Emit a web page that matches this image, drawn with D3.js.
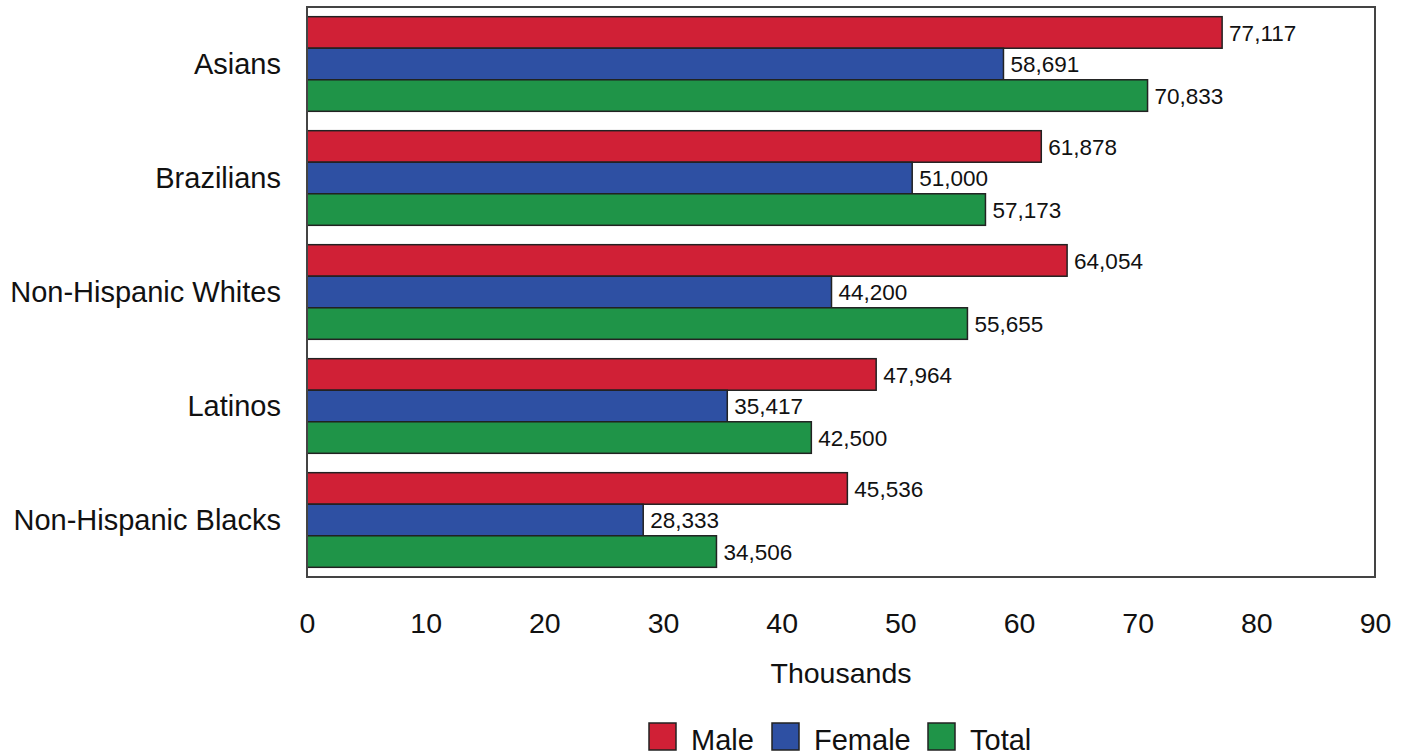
<!DOCTYPE html>
<html lang="en">
<head>
  <meta charset="utf-8">
  <title>Earnings by group</title>
  <script src="https://d3js.org/d3.v7.min.js"></script>
  <style>
    body { margin: 0; background: #fff; }
    #chart text { font-family: "Liberation Sans", Arial, sans-serif; fill: #111; }
    .bar { stroke: #222; stroke-width: 1.5; }
    .frame { fill: none; stroke: #444; stroke-width: 2; }
  </style>
</head>
<body>
  <div id="chart"></div>
  <script>
    // dados
    var grupos = ["Asians", "Brazilians", "Non-Hispanic Whites", "Latinos", "Non-Hispanic Blacks"];
    var series = ["Male", "Female", "Total"];
    var male = [77117, 61878, 64054, 47964, 45536];
    var female = [58691, 51000, 44200, 35417, 28333];
    var total = [70833, 57173, 55655, 42500, 34506];
    var xTicks = [0, 10, 20, 30, 40, 50, 60, 70, 80, 90];
    var cores = ["#d02036", "#2e50a3", "#1f9448"];

    var largura = 1407, altura = 755;
    var margin = {top: 7, right: 32, bottom: 178, left: 307};
    var w = largura - margin.left - margin.right,
        h = altura - margin.top - margin.bottom;

    var valores = [male, female, total];
    var dados = grupos.map(function(g, i) {
      return {grupo: g, vals: series.map(function(s, j) { return {serie: s, v: valores[j][i], j: j}; })};
    });

    var svg = d3.select("#chart").append("svg")
      .attr("width", largura).attr("height", altura);
    var g = svg.append("g")
      .attr("transform", "translate(" + margin.left + "," + margin.top + ")");

    var x = d3.scaleLinear().domain([0, 90]).range([0, w]);
    var y = d3.scaleBand().domain(grupos).range([0, h]).paddingInner(0.17).paddingOuter(0.085);
    var y1 = d3.scaleBand().domain(series).range([0, y.bandwidth()]);

    var grp = g.selectAll(".grupo").data(dados).enter().append("g")
      .attr("transform", function(d) { return "translate(0," + y(d.grupo) + ")"; });

    grp.selectAll("rect").data(function(d) { return d.vals; }).enter().append("rect")
      .attr("class", "bar")
      .attr("x", 0)
      .attr("y", function(d) { return y1(d.serie); })
      .attr("width", function(d) { return x(d.v / 1000); })
      .attr("height", y1.bandwidth())
      .attr("fill", function(d) { return cores[d.j]; });

    var fmt = d3.format(",");
    grp.selectAll(".val").data(function(d) { return d.vals; }).enter().append("text")
      .attr("x", function(d) { return x(d.v / 1000) + 7; })
      .attr("y", function(d) { return y1(d.serie) + y1.bandwidth() / 2; })
      .attr("dy", "0.36em")
      .style("font-size", "22.5px")
      .text(function(d) { return fmt(d.v); });

    // rotulos das categorias
    g.selectAll(".cat").data(grupos).enter().append("text")
      .attr("x", -26)
      .attr("y", function(d) { return y(d) + y.bandwidth() / 2; })
      .attr("dy", "0.36em")
      .attr("text-anchor", "end")
      .style("font-size", "29px")
      .text(function(d) { return d; });

    g.append("rect").attr("class", "frame")
      .attr("x", 0).attr("y", 0).attr("width", w).attr("height", h);

    var eixo = g.append("g")
      .attr("transform", "translate(0," + h + ")")
      .call(d3.axisBottom(x).tickValues(xTicks).tickSize(0).tickPadding(36));
    eixo.select(".domain").remove();
    eixo.selectAll("text").style("font-size", "28.5px").attr("fill", "#111");

    g.append("text")
      .attr("x", w / 2).attr("y", 683 - margin.top)
      .attr("text-anchor", "middle")
      .style("font-size", "28.5px")
      .text("Thousands");

    // legenda
    var legX = [649, 772, 928];
    var leg = svg.selectAll(".leg").data(series).enter().append("g")
      .attr("transform", function(d, i) { return "translate(" + legX[i] + ",723)"; });
    leg.append("rect").attr("class", "bar")
      .attr("width", 27).attr("height", 27)
      .attr("fill", function(d, i) { return cores[i]; });
    leg.append("text").attr("x", 42).attr("y", 27)
      .style("font-size", "29px")
      .text(function(d) { return d; });
  </script>
</body>
</html>
